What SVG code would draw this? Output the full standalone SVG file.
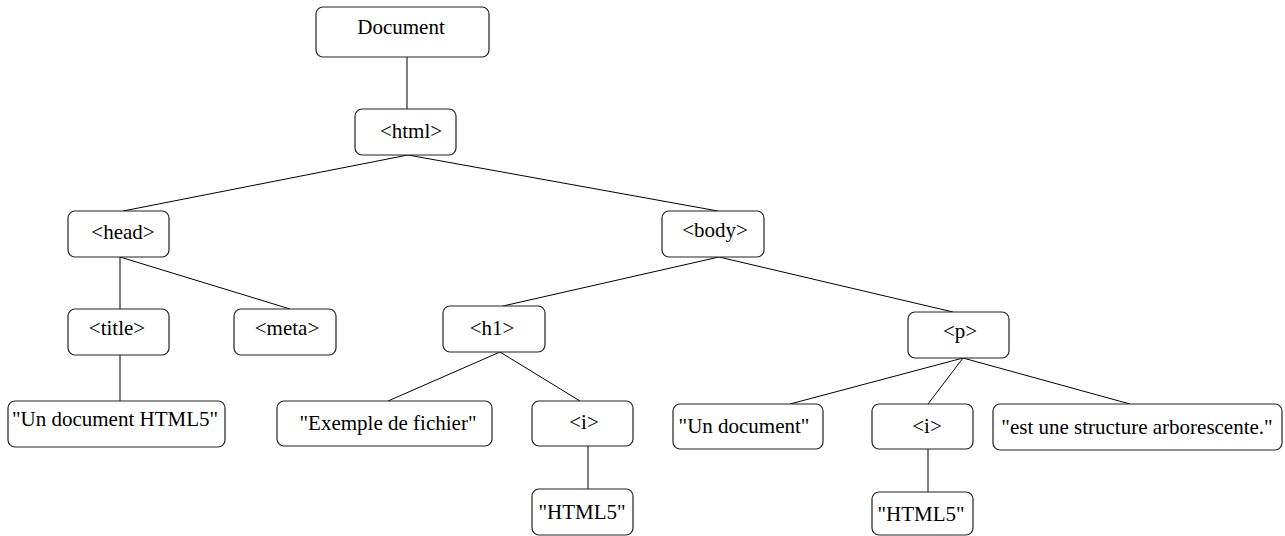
<svg xmlns="http://www.w3.org/2000/svg" width="1285" height="536" viewBox="0 0 1285 536">
<style>
.box{fill:#fff;stroke:#222;stroke-width:1.2}
.lbl{font-family:"Liberation Serif","Times New Roman",serif;font-size:21px;fill:#000;text-anchor:middle}
.edge{stroke:#000;stroke-width:1;fill:none}
</style>
<rect width="1285" height="536" fill="#fff"/>
<g id="connectors">
<line class="edge" x1="407" y1="57" x2="407" y2="109"/>
<line class="edge" x1="408" y1="155" x2="123" y2="211"/>
<line class="edge" x1="408" y1="155" x2="718" y2="211"/>
<line class="edge" x1="120" y1="257" x2="120" y2="309"/>
<line class="edge" x1="120" y1="257" x2="290" y2="309"/>
<line class="edge" x1="120" y1="355" x2="120" y2="401"/>
<line class="edge" x1="719" y1="257" x2="503" y2="306"/>
<line class="edge" x1="719" y1="257" x2="953" y2="312"/>
<line class="edge" x1="500" y1="352" x2="388" y2="401"/>
<line class="edge" x1="500" y1="352" x2="580" y2="401"/>
<line class="edge" x1="588" y1="446" x2="588" y2="489"/>
<line class="edge" x1="963" y1="358" x2="790" y2="404"/>
<line class="edge" x1="963" y1="358" x2="928" y2="404"/>
<line class="edge" x1="963" y1="358" x2="1130" y2="404"/>
<line class="edge" x1="928" y1="449" x2="928" y2="492"/>
</g>
<g id="n-document"><rect class="box" x="316" y="7" width="173" height="50" rx="7"/><text class="lbl" x="401" y="34">Document</text></g>
<g id="n-html"><rect class="box" x="355" y="109" width="101" height="46" rx="7"/><text class="lbl" x="411" y="138">&lt;html&gt;</text></g>
<g id="n-head"><rect class="box" x="68" y="211" width="101" height="46" rx="7"/><text class="lbl" x="123" y="239">&lt;head&gt;</text></g>
<g id="n-body"><rect class="box" x="662" y="211" width="102" height="46" rx="7"/><text class="lbl" x="715" y="237">&lt;body&gt;</text></g>
<g id="n-title"><rect class="box" x="68" y="309" width="101" height="46" rx="7"/><text class="lbl" x="117" y="335">&lt;title&gt;</text></g>
<g id="n-meta"><rect class="box" x="234" y="309" width="102" height="46" rx="7"/><text class="lbl" x="287" y="335">&lt;meta&gt;</text></g>
<g id="n-h1"><rect class="box" x="443" y="306" width="102" height="46" rx="7"/><text class="lbl" x="492" y="335">&lt;h1&gt;</text></g>
<g id="n-p"><rect class="box" x="908" y="312" width="101" height="46" rx="7"/><text class="lbl" x="960" y="338">&lt;p&gt;</text></g>
<g id="n-title-text"><rect class="box" x="8" y="401" width="217" height="46" rx="7"/><text class="lbl" x="115" y="426">"Un document HTML5"</text></g>
<g id="n-h1-text"><rect class="box" x="277" y="401" width="215" height="45" rx="7"/><text class="lbl" x="388" y="430">"Exemple de fichier"</text></g>
<g id="n-h1-i"><rect class="box" x="532" y="401" width="101" height="45" rx="7"/><text class="lbl" x="584" y="429">&lt;i&gt;</text></g>
<g id="n-h1-i-text"><rect class="box" x="532" y="489" width="101" height="46" rx="7"/><text class="lbl" x="582" y="519">"HTML5"</text></g>
<g id="n-p-text1"><rect class="box" x="673" y="404" width="150" height="45" rx="7"/><text class="lbl" x="744" y="433">"Un document"</text></g>
<g id="n-p-i"><rect class="box" x="872" y="404" width="101" height="45" rx="7"/><text class="lbl" x="927" y="433">&lt;i&gt;</text></g>
<g id="n-p-text2"><rect class="box" x="993" y="404" width="289" height="46" rx="7"/><text class="lbl" x="1137" y="434">"est une structure arborescente."</text></g>
<g id="n-p-i-text"><rect class="box" x="872" y="492" width="101" height="43" rx="7"/><text class="lbl" x="921" y="521">"HTML5"</text></g>
</svg>
